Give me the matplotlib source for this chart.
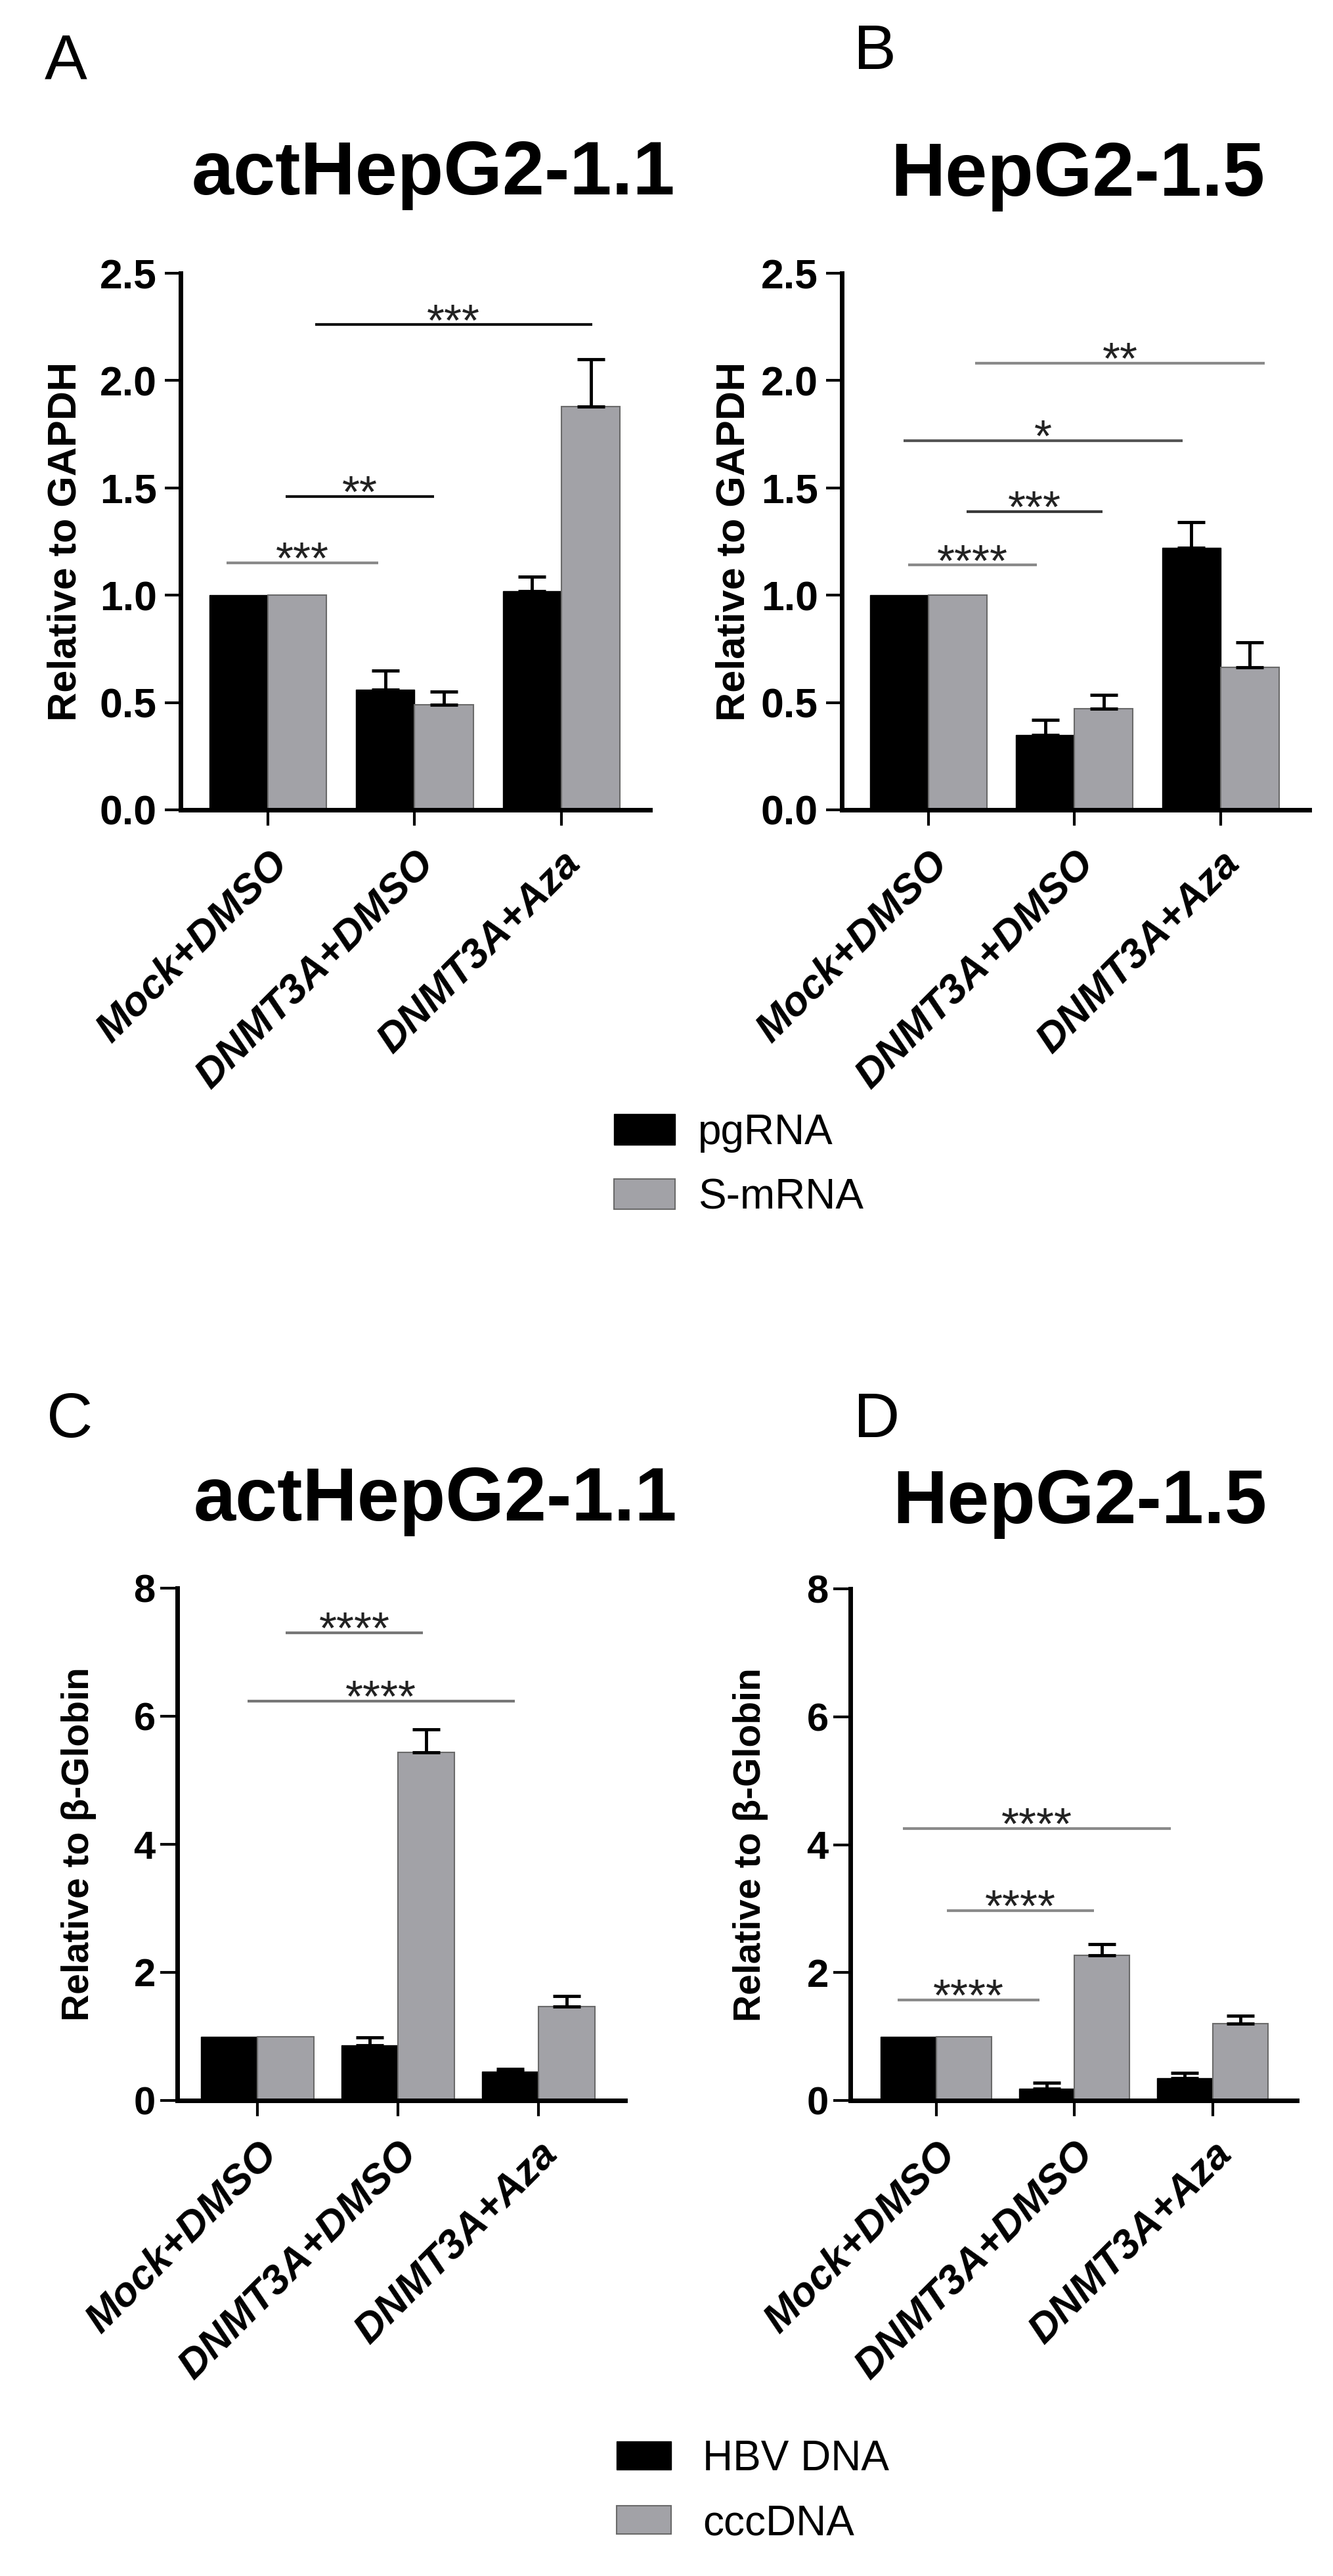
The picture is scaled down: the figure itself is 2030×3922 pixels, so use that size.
import matplotlib
matplotlib.use("Agg")
import matplotlib.pyplot as plt
from matplotlib.transforms import ScaledTranslation
import numpy as np

plt.rcParams['font.family'] = ['Liberation Sans', 'DejaVu Sans']

W, H = 2030, 3922
DPI = 100

groups = ["Mock+DMSO", "DNMT3A+DMSO", "DNMT3A+Aza"]

# RNA, relative to GAPDH
rna_names = ["pgRNA", "S-mRNA"]
a_pg = [1.0, 0.56, 1.02]
a_pg_err = [0.0, 0.09, 0.065]
a_s = [1.0, 0.49, 1.88]
a_s_err = [0.0, 0.06, 0.22]
b_pg = [1.0, 0.35, 1.22]
b_pg_err = [0.0, 0.07, 0.12]
b_s = [1.0, 0.47, 0.665]
b_s_err = [0.0, 0.065, 0.115]

# DNA, relative to beta-globin
dna_names = ["HBV DNA", "cccDNA"]
c_hbv = [1.0, 0.86, 0.45]
c_hbv_err = [0.0, 0.12, 0.045]
c_ccc = [1.0, 5.44, 1.47]
c_ccc_err = [0.0, 0.36, 0.16]
d_hbv = [1.0, 0.18, 0.35]
d_hbv_err = [0.0, 0.10, 0.085]
d_ccc = [1.0, 2.27, 1.20]
d_ccc_err = [0.0, 0.17, 0.12]

# significance lines: x from, x to, height, stars, colour
a_sig = [(-0.28, 0.75, 1.15, "***", "#8a8a8a"),
         (0.12, 1.13, 1.46, "**", "#111111"),
         (0.32, 2.21, 2.26, "***", "#111111")]
b_sig = [(-0.14, 0.74, 1.14, "****", "#8a8a8a"),
         (0.26, 1.19, 1.39, "***", "#3a3a3a"),
         (-0.17, 1.74, 1.72, "*", "#555555"),
         (0.32, 2.30, 2.08, "**", "#8a8a8a")]
c_sig = [(0.20, 1.18, 7.30, "****", "#777777"),
         (-0.07, 1.83, 6.24, "****", "#777777")]
d_sig = [(-0.28, 0.75, 1.57, "****", "#8a8a8a"),
         (0.08, 1.14, 2.97, "****", "#8a8a8a"),
         (-0.24, 1.70, 4.25, "****", "#8a8a8a")]

GRAY = "#a2a2a7"
fig = plt.figure(figsize=(W / DPI, H / DPI), dpi=DPI)


def px_rect(l, r, t, b):
    return [l / W, 1 - b / H, (r - l) / W, (b - t) / H]


def panel(rect, xlim, ymax, ystep, fmt, s1, e1, s2, e2, ylabel, ylab_x,
          sig, tick_fs, ylab_fs, tpad, tlen):
    ax = fig.add_axes(rect)
    x = np.arange(len(groups))
    w = 0.4
    b1 = ax.bar(x - w / 2, s1, w, color="black", edgecolor="black", linewidth=1)
    b2 = ax.bar(x + w / 2, s2, w, color=GRAY, edgecolor="#6a6a6a", linewidth=1.5)
    for xs, vals, errs in ((x - w / 2, s1, e1), (x + w / 2, s2, e2)):
        m = np.array(errs) > 0
        ax.errorbar(xs[m], np.array(vals)[m],
                    yerr=[np.zeros(m.sum()), np.array(errs)[m]],
                    fmt="none", ecolor="black", elinewidth=3.5,
                    capsize=15, capthick=3.5, zorder=3)
    ax.set_xlim(*xlim)
    ax.set_ylim(0, ymax)
    yt = np.arange(0, ymax + 1e-9, ystep)
    ax.set_yticks(yt)
    ax.set_yticklabels([fmt.format(v) for v in yt], fontsize=tick_fs,
                       fontweight="bold")
    ax.set_xticks(x)
    ax.set_xticklabels(groups, rotation=45, ha="right", va="top",
                       rotation_mode="anchor", fontsize=45,
                       fontweight="bold", fontstyle="italic")
    off = ScaledTranslation(12 / DPI, 0, fig.dpi_scale_trans)
    for lbl in ax.get_xticklabels():
        lbl.set_transform(lbl.get_transform() + off)
    ax.tick_params(axis="y", direction="out", length=tlen, width=3, pad=tpad)
    ax.tick_params(axis="x", direction="out", length=17, width=3, pad=20)
    for s in ("top", "right"):
        ax.spines[s].set_visible(False)
    for s in ("left", "bottom"):
        ax.spines[s].set_linewidth(5)
    ax.set_ylabel(ylabel, fontsize=ylab_fs, fontweight="bold")
    ax.yaxis.set_label_coords(ylab_x, 0.5)
    down = ScaledTranslation(0, -16 / DPI, fig.dpi_scale_trans)
    for x0, x1, y, stars, col in sig:
        ax.plot([x0, x1], [y, y], color=col, lw=3, clip_on=False,
                solid_capstyle="butt")
        ax.text((x0 + x1) / 2, y, stars, ha="center", va="baseline",
                fontsize=50, color="#222222", transform=ax.transData + down)
    return ax, b1, b2


axA, a1, a2 = panel(px_rect(275, 990, 416, 1233), (-0.595, 2.604), 2.5, 0.5,
                    "{:.1f}", a_pg, a_pg_err, a_s, a_s_err,
                    "Relative to GAPDH", -0.205, a_sig, 45, 44, 9, 17)
axB, _, _ = panel(px_rect(1282, 1994, 416, 1233), (-0.593, 2.607), 2.5, 0.5,
                  "{:.1f}", b_pg, b_pg_err, b_s, b_s_err,
                  "Relative to GAPDH", -0.19, b_sig, 45, 44, 9, 17)
axC, c1, c2 = panel(px_rect(270, 952, 2418, 3198), (-0.57, 2.617), 8, 2,
                    "{:.0f}", c_hbv, c_hbv_err, c_ccc, c_ccc_err,
                    "Relative to β-Globin", -0.18, c_sig, 43, 41, 5, 19)
axD, _, _ = panel(px_rect(1295, 1975, 2419, 3198), (-0.62, 2.61), 8, 2,
                  "{:.0f}", d_hbv, d_hbv_err, d_ccc, d_ccc_err,
                  "Relative to β-Globin", -0.184, d_sig, 43, 41, 5, 19)

# titles and panel letters
fig.text(660 / W, 1 - 296 / H, "actHepG2-1.1", ha="center", va="baseline",
         fontsize=83, fontweight="bold")
fig.text(1641 / W, 1 - 298 / H, "HepG2-1.5", ha="center", va="baseline",
         fontsize=83, fontweight="bold")
fig.text(663 / W, 1 - 2315 / H, "actHepG2-1.1", ha="center", va="baseline",
         fontsize=83, fontweight="bold")
fig.text(1644 / W, 1 - 2319 / H, "HepG2-1.5", ha="center", va="baseline",
         fontsize=83, fontweight="bold")
for letter, lx, ly in (("A", 68, 119), ("B", 1300, 105),
                       ("C", 71, 2188), ("D", 1300, 2188)):
    fig.text(lx / W, 1 - ly / H, letter, ha="left", va="baseline", fontsize=70)

# legends
fig.legend([a1, a2], rna_names, loc="upper left",
           bbox_to_anchor=(935 / W, 1 - 1695 / H), frameon=False,
           fontsize=46, handlelength=1.45, handleheight=0.75,
           handletextpad=0.55, labelspacing=0.6, borderpad=0,
           borderaxespad=0)
fig.legend([c1, c2], dna_names, loc="upper left",
           bbox_to_anchor=(939 / W, 1 - 3714 / H), frameon=False,
           fontsize=46, handlelength=1.3, handleheight=0.66,
           handletextpad=0.75, labelspacing=0.6, borderpad=0,
           borderaxespad=0)

fig.savefig("out.png", dpi=DPI)
